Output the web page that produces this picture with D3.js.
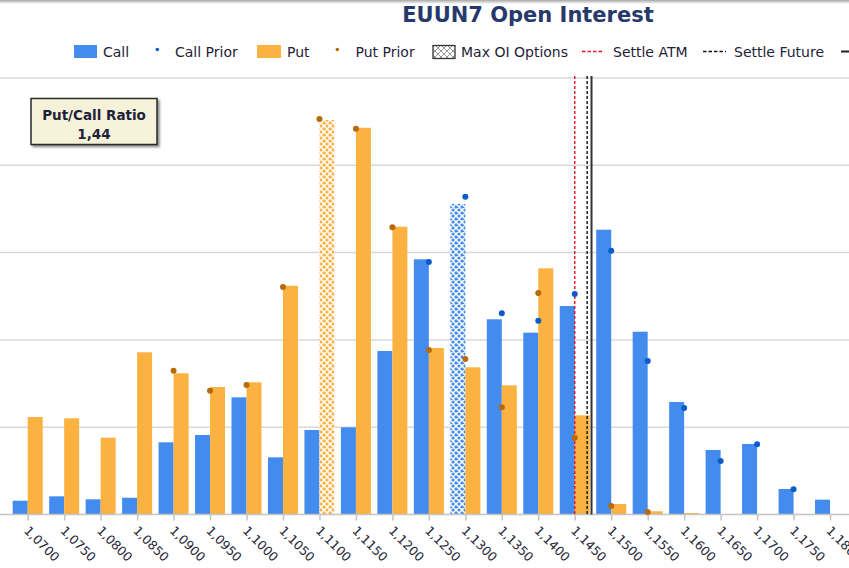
<!DOCTYPE html>
<html>
<head>
<meta charset="utf-8">
<script src="https://cdn.jsdelivr.net/npm/d3@7"></script>
<style>
  html, body { margin: 0; padding: 0; background: #fff; }
  svg { display: block; font-family: "DejaVu Sans", Verdana, sans-serif; }
</style>
</head>
<body>
<svg id="chart" width="849" height="568"></svg>
<script>
// ---------- data ----------
const strikes = ["1,0700","1,0750","1,0800","1,0850","1,0900","1,0950","1,1000","1,1050","1,1100","1,1150","1,1200","1,1250","1,1300","1,1350","1,1400","1,1450","1,1500","1,1550","1,1600","1,1650","1,1700","1,1750","1,1800"];
const callOI = [158, 208, 174, 192, 827, 911, 1342, 655, 968, 999, 1873, 2923, 3557, 2236, 2083, 2388, 3262, 2094, 1289, 739, 808, 292, 170];
const callPrior = [null, null, null, null, null, null, null, null, null, null, null, 2892, 3640, 2304, 2220, 2526, 3020, 1758, 1220, 613, 804, 289, null];
const putOI = [1117, 1102, 880, 1858, 1617, 1460, 1514, 2620, 4519, 4430, 3297, 1907, 1686, 1480, 2820, 1136, 120, 37, 17, 0, 0, 0, 0];
const putPrior = [null, null, null, null, 1647, 1418, 1483, 2606, 4530, 4420, 3290, 1884, 1781, 1228, 2537, 880, 97, 29, null, null, null, null, null];
const yTicks = [0, 1000, 2000, 3000, 4000, 5000];
const settleATM = 1.1450;
const settleFuture = 1.1467;
const lastFuture = 1.1473;
const putCallRatio = "1,44";
const titleText = "EUUN7 Open Interest";
const legendItems = ["Call", "Call Prior", "Put", "Put Prior", "Max OI Options", "Settle ATM", "Settle Future"];

// ---------- styles ----------
const C_CALL = "#438CEE", C_PUT = "#FBB241", C_CALLP = "#0B5CCB", C_PUTP = "#B8690C";
const svg = d3.select("#chart");

// frame edge at top
const defs = svg.append("defs");
const g0 = defs.append("linearGradient").attr("id","topEdge").attr("x1",0).attr("y1",0).attr("x2",0).attr("y2",1);
g0.append("stop").attr("offset","0%").attr("stop-color","#a9a9a9");
g0.append("stop").attr("offset","100%").attr("stop-color","#ffffff");
svg.append("rect").attr("x",0).attr("y",0).attr("width",849).attr("height",4).attr("fill","url(#topEdge)");

function hatch(id, bg, fg, sw) {
  const p = defs.append("pattern").attr("id", id).attr("patternUnits","userSpaceOnUse").attr("width",6).attr("height",6);
  p.append("rect").attr("width",6).attr("height",6).attr("fill",bg);
  p.append("path").attr("d","M0,0L6,6M6,0L0,6M-1,5L1,7M5,-1L7,1M-1,1L1,-1M5,7L7,5").attr("stroke",fg).attr("stroke-width",sw);
}
hatch("hCall", C_CALL, "#fff", 1.5);
hatch("hPut", C_PUT, "#fff", 1.5);
hatch("hLeg", "#fff", "#9a9a9a", 1);
const sh = defs.append("filter").attr("id","shadow").attr("x","-10%").attr("y","-10%").attr("width","130%").attr("height","140%");
sh.append("feDropShadow").attr("dx",2).attr("dy",2).attr("stdDeviation",1.2).attr("flood-color","#000").attr("flood-opacity",0.45);

// ---------- scales ----------
const step = 36.47, x0start = 9.46;
const x = d3.scaleBand().domain(strikes).range([x0start, x0start + step * strikes.length]).paddingInner(0.177).paddingOuter(0.0885);
const xs = d3.scaleBand().domain(["call","put"]).range([0, x.bandwidth()]);
const y = d3.scaleLinear().domain([0, 5000]).range([514.5, 78]);
const cx = s => x(s) + x.bandwidth() / 2;
const strikeNum = s => +s.replace(",", ".");
const xLin = d3.scaleLinear().domain([strikeNum(strikes[0]), strikeNum(strikes[strikes.length-1])]).range([cx(strikes[0]), cx(strikes[strikes.length-1])]);

// ---------- grid ----------
svg.append("g").selectAll("line").data(yTicks.slice(1)).join("line")
  .attr("x1", 0).attr("x2", 849).attr("y1", d => y(d)).attr("y2", d => y(d))
  .attr("stroke", "#d9d9d9").attr("stroke-width", 1.5);

// ---------- bars ----------
const maxCall = d3.maxIndex(callOI), maxPut = d3.maxIndex(putOI);
const bars = svg.append("g");
bars.selectAll("rect.call").data(strikes).join("rect").attr("class","call")
  .attr("x", s => x(s) + xs("call")).attr("width", xs.bandwidth())
  .attr("y", (s,i) => y(callOI[i])).attr("height", (s,i) => y(0) - y(callOI[i]))
  .attr("fill", (s,i) => i === maxCall ? "url(#hCall)" : C_CALL);
bars.selectAll("rect.put").data(strikes).join("rect").attr("class","put")
  .attr("x", s => x(s) + xs("put")).attr("width", xs.bandwidth())
  .attr("y", (s,i) => y(putOI[i])).attr("height", (s,i) => y(0) - y(putOI[i]))
  .attr("fill", (s,i) => i === maxPut ? "url(#hPut)" : C_PUT);

// ---------- x axis ----------
const xAxis = svg.append("g").attr("transform", `translate(0,${y(0)})`)
  .call(d3.axisBottom(d3.scalePoint().domain(strikes).range([cx(strikes[0]), cx(strikes[strikes.length-1])])).tickSize(6).tickSizeOuter(0));
xAxis.select(".domain").remove();
xAxis.selectAll(".tick line").attr("stroke", "#c4c4c4").attr("stroke-width", 1.5);
xAxis.selectAll(".tick text")
  .attr("x", 0).attr("y", 0).attr("dy", 0)
  .attr("text-anchor", "start")
  .attr("transform", "translate(-5,17) rotate(45)")
  .attr("font-size", 12.5).attr("fill", "#26263a")
  .attr("font-family", "DejaVu Sans");
svg.append("line").attr("x1", 0).attr("x2", 849).attr("y1", y(0)).attr("y2", y(0)).attr("stroke", "#c4c4c4").attr("stroke-width", 1.5);

// ---------- reference lines ----------
const refTop = y(5000) - 2;
svg.append("line").attr("x1", xLin(settleATM)).attr("x2", xLin(settleATM)).attr("y1", refTop).attr("y2", y(0))
  .attr("stroke", "#e8101a").attr("stroke-width", 1.4).attr("stroke-dasharray", "3,2");
svg.append("line").attr("x1", xLin(settleFuture)).attr("x2", xLin(settleFuture)).attr("y1", refTop).attr("y2", y(0))
  .attr("stroke", "#111").attr("stroke-width", 1.4).attr("stroke-dasharray", "3,2");
svg.append("line").attr("x1", xLin(lastFuture)).attr("x2", xLin(lastFuture)).attr("y1", refTop).attr("y2", y(0))
  .attr("stroke", "#333").attr("stroke-width", 2);

// ---------- prior dots ----------
const dots = svg.append("g");
dots.selectAll("circle.pp").data(strikes.map((s,i) => [s, putPrior[i]]).filter(d => d[1] != null)).join("circle")
  .attr("class","pp").attr("cx", d => cx(d[0])).attr("cy", d => y(d[1])).attr("r", 3).attr("fill", C_PUTP);
dots.selectAll("circle.cp").data(strikes.map((s,i) => [s, callPrior[i]]).filter(d => d[1] != null)).join("circle")
  .attr("class","cp").attr("cx", d => cx(d[0])).attr("cy", d => y(d[1])).attr("r", 3).attr("fill", C_CALLP);

// ---------- title ----------
svg.append("text").attr("x", 528).attr("y", 22).attr("text-anchor", "middle")
  .attr("font-size", 21).attr("font-weight", "bold").attr("fill", "#27396B").text(titleText);

// ---------- legend ----------
const leg = svg.append("g").attr("font-size", 14).attr("fill", "#1d2238");
const ly = 51.5, ty = 57;
leg.append("rect").attr("x", 74).attr("y", 45).attr("width", 23).attr("height", 13).attr("fill", C_CALL);
leg.append("text").attr("x", 103).attr("y", ty).text(legendItems[0]);
leg.append("circle").attr("cx", 157.3).attr("cy", 49.5).attr("r", 1.8).attr("fill", C_CALLP);
leg.append("text").attr("x", 175).attr("y", ty).text(legendItems[1]);
leg.append("rect").attr("x", 257).attr("y", 45).attr("width", 24).attr("height", 13).attr("fill", C_PUT);
leg.append("text").attr("x", 287).attr("y", ty).text(legendItems[2]);
leg.append("circle").attr("cx", 337.3).attr("cy", 49.5).attr("r", 1.8).attr("fill", C_PUTP);
leg.append("text").attr("x", 355.5).attr("y", ty).text(legendItems[3]);
leg.append("rect").attr("x", 433).attr("y", 45.5).attr("width", 22).attr("height", 13).attr("fill", "url(#hLeg)").attr("stroke", "#333").attr("stroke-width", 1.3);
leg.append("text").attr("x", 461).attr("y", ty).text(legendItems[4]);
leg.append("line").attr("x1", 582).attr("x2", 604).attr("y1", ly).attr("y2", ly).attr("stroke", "#e8101a").attr("stroke-width", 1.4).attr("stroke-dasharray", "3.5,2");
leg.append("text").attr("x", 613).attr("y", ty).text(legendItems[5]);
leg.append("line").attr("x1", 703).attr("x2", 726).attr("y1", ly).attr("y2", ly).attr("stroke", "#111").attr("stroke-width", 1.4).attr("stroke-dasharray", "3.5,2");
leg.append("text").attr("x", 734).attr("y", ty).text(legendItems[6]);
leg.append("line").attr("x1", 841).attr("x2", 860).attr("y1", ly).attr("y2", ly).attr("stroke", "#222").attr("stroke-width", 2);

// ---------- put/call ratio box ----------
const box = svg.append("g");
box.append("rect").attr("x", 31).attr("y", 98.5).attr("width", 126).attr("height", 46)
  .attr("fill", "#F6F2DA").attr("stroke", "#2a2a2a").attr("stroke-width", 1.5).attr("filter", "url(#shadow)");
box.append("text").attr("x", 94).attr("y", 120).attr("text-anchor", "middle").attr("font-size", 13.5).attr("font-weight", "bold").attr("fill", "#1d2238").text("Put/Call Ratio");
box.append("text").attr("x", 94).attr("y", 139).attr("text-anchor", "middle").attr("font-size", 13.5).attr("font-weight", "bold").attr("fill", "#1d2238").text(putCallRatio);
</script>
</body>
</html>
